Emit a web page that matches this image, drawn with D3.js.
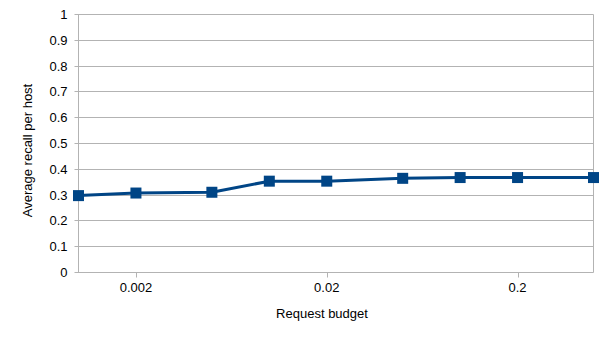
<!DOCTYPE html>
<html>
<head>
<meta charset="utf-8">
<script src="https://cdn.jsdelivr.net/npm/d3@7"></script>
<style>
  html, body { margin: 0; padding: 0; background: #fff; }
  svg { display: block; }
  text { font-family: "Liberation Sans", Arial, sans-serif; }
</style>
</head>
<body>
<svg id="chart" width="605" height="340"></svg>
<script>
const budgets = [0.001, 0.002, 0.005, 0.01, 0.02, 0.05, 0.1, 0.2, 0.5];
const recall = [0.298, 0.308, 0.311, 0.354, 0.354, 0.365, 0.368, 0.368, 0.368];
const xTicks = [0.002, 0.02, 0.2];
const xTickLabels = ["0.002", "0.02", "0.2"];
const yTicks = [0, 0.1, 0.2, 0.3, 0.4, 0.5, 0.6, 0.7, 0.8, 0.9, 1];
const yTickLabels = ["0", "0.1", "0.2", "0.3", "0.4", "0.5", "0.6", "0.7", "0.8", "0.9", "1"];
const xTitle = "Request budget";
const yTitle = "Average recall per host";

const svg = d3.select("#chart");
const L = 78.5, R = 593.5, T = 14.5, B = 272.5;
const grid = "#b3b3b3";
const blue = "#004586";

const x = d3.scaleLog().domain([0.001, 0.5]).range([L, R]);
const y = d3.scaleLinear().domain([0, 1]).range([B, T]);

// gridlines
svg.append("g").selectAll("line").data(yTicks).join("line")
  .attr("x1", L - 4).attr("x2", R)
  .attr("y1", d => Math.round(y(d) - 0.5) + 0.5).attr("y2", d => Math.round(y(d) - 0.5) + 0.5)
  .attr("stroke", grid).attr("stroke-width", 1);

// left & right borders
svg.append("line").attr("x1", L).attr("x2", L).attr("y1", T).attr("y2", B)
  .attr("stroke", grid);
svg.append("line").attr("x1", R).attr("x2", R).attr("y1", T).attr("y2", B)
  .attr("stroke", grid);

// x ticks
svg.append("g").selectAll("line").data(xTicks).join("line")
  .attr("x1", d => Math.round(x(d)) + 0.5).attr("x2", d => Math.round(x(d)) + 0.5)
  .attr("y1", B).attr("y2", B + 5)
  .attr("stroke", grid);

// y tick labels
svg.append("g").selectAll("text").data(yTicks).join("text")
  .attr("x", 67.5).attr("y", d => y(d) + 4.5)
  .attr("text-anchor", "end").attr("font-size", 13).attr("fill", "#000")
  .text((d, i) => yTickLabels[i]);

// x tick labels
svg.append("g").selectAll("text").data(xTicks).join("text")
  .attr("x", d => x(d)).attr("y", 292)
  .attr("text-anchor", "middle").attr("font-size", 13).attr("fill", "#000")
  .text((d, i) => xTickLabels[i]);

// axis titles
svg.append("text").attr("x", 322).attr("y", 318)
  .attr("text-anchor", "middle").attr("font-size", 13).attr("fill", "#000")
  .text(xTitle);
svg.append("text")
  .attr("transform", "translate(31.5,150.5) rotate(-90)")
  .attr("text-anchor", "middle").attr("font-size", 13).attr("fill", "#000")
  .text(yTitle);

// line
const pts = budgets.map((b, i) => [b, recall[i]]);
svg.append("path")
  .datum(pts)
  .attr("fill", "none").attr("stroke", blue).attr("stroke-width", 3)
  .attr("stroke-linejoin", "round")
  .attr("d", d3.line().x(d => x(d[0])).y(d => y(d[1])));

// markers
const s = 11;
svg.append("g").selectAll("rect").data(pts).join("rect")
  .attr("x", d => x(d[0]) - s / 2).attr("y", d => y(d[1]) - s / 2)
  .attr("width", s).attr("height", s)
  .attr("fill", blue);
</script>
</body>
</html>
